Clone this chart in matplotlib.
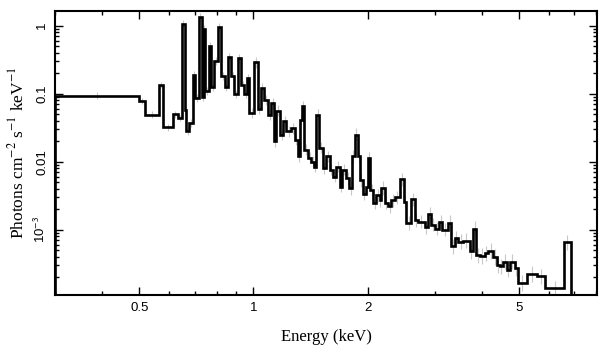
import numpy as np
import matplotlib
matplotlib.use("Agg")
import matplotlib.pyplot as plt
from matplotlib.ticker import FixedLocator, FixedFormatter, LogLocator, NullFormatter

plt.rcParams["mathtext.fontset"] = "stix"

# Energy bin edges (keV)
edges = [0.30, 0.498, 0.519, 0.565, 0.579, 0.613, 0.632, 0.648, 0.659, 0.664, 0.678,
         0.692, 0.703, 0.717, 0.730, 0.739, 0.747, 0.762, 0.773, 0.789, 0.805, 0.822,
         0.839, 0.856, 0.873, 0.891, 0.909, 0.928, 0.947, 0.960, 0.976, 1.006, 1.026,
         1.048, 1.063, 1.091, 1.114, 1.136, 1.148, 1.176, 1.200, 1.220, 1.257, 1.283,
         1.309, 1.323, 1.345, 1.363, 1.391, 1.420, 1.448, 1.464, 1.493, 1.523, 1.555,
         1.587, 1.619, 1.653, 1.686, 1.714, 1.756, 1.784, 1.821, 1.847, 1.884, 1.904,
         1.943, 1.975, 2.003, 2.032, 2.064, 2.108, 2.150, 2.172, 2.216, 2.261, 2.308,
         2.355, 2.428, 2.488, 2.518, 2.607, 2.660, 2.714, 2.827, 2.884, 2.944, 3.004,
         3.083, 3.147, 3.256, 3.324, 3.391, 3.460, 3.567, 3.715, 3.790, 3.869, 3.948,
         4.070, 4.153, 4.280, 4.370, 4.458, 4.548, 4.643, 4.737, 4.883, 4.982, 5.243,
         5.570, 5.861, 6.588, 6.847]

# Flux per bin (photons cm^-2 s^-1 keV^-1)
flux = [0.093, 0.078, 0.049, 0.134, 0.032, 0.050, 0.044, 1.05, 0.058, 0.028,
        0.037, 0.19, 0.086, 1.35, 0.09, 0.9, 0.11, 0.5, 0.125, 0.30,
        0.95, 0.18, 0.125, 0.35, 0.18, 0.10, 0.33, 0.134, 0.10, 0.17,
        0.052, 0.29, 0.06, 0.12, 0.081, 0.049, 0.072, 0.02, 0.056, 0.025,
        0.039, 0.028, 0.031, 0.021, 0.012, 0.041, 0.066, 0.015, 0.0114, 0.010,
        0.0085, 0.049, 0.016, 0.008, 0.012, 0.0076, 0.006, 0.0085, 0.0043, 0.0076,
        0.0057, 0.0041, 0.012, 0.025, 0.012, 0.0054, 0.0034, 0.0043, 0.0113, 0.0038,
        0.0025, 0.0032, 0.0027, 0.0041, 0.0025, 0.0022, 0.0027, 0.003, 0.0055, 0.0026,
        0.00126, 0.0028, 0.00139, 0.00131, 0.00109, 0.00173, 0.00118, 0.00104, 0.00131, 0.0010,
        0.00127, 0.00057, 0.00075, 0.00067, 0.00069, 0.00048, 0.00104, 0.00042, 0.00041, 0.00045,
        0.00049, 0.00040, 0.000305, 0.00029, 0.00034, 0.00026, 0.00034, 0.00027, 0.000166, 0.000222,
        0.000206, 0.000138, 0.00065]

# Relative 1-sigma errors per bin (grey error bars)
rel_err = ([0.12] * 7 + [0.15] * 23 + [0.2] * 30 + [0.25] * 30 + [0.3] * 23)

xticks = [0.5, 1, 2, 5]
xticklabels = ["0.5", "1", "2", "5"]
yticks = [1e-3, 1e-2, 1e-1, 1]
yticklabels = ["10$^{\\mathsf{-3}}$", "0.01", "0.1", "1"]

fig = plt.figure(figsize=(6.08, 3.57), dpi=100)
ax = fig.add_axes([55/608, 1-295/357, (597-55)/608, (295-11)/357])

e = np.array(edges)
f = np.array(flux)
r = np.array(rel_err)
centers = np.sqrt(e[:-1] * e[1:])
ax.errorbar(centers, f, yerr=[f * r / (1 + r), f * r], fmt="none",
            ecolor="#c8c8c8", elinewidth=0.8, capsize=0, zorder=1)
ax.stairs(flux, edges, baseline=1e-6, fill=False, color="black", linewidth=1.9, zorder=2)

ax.set_xscale("log")
ax.set_yscale("log")
ax.set_xlim(0.3, 8.04)
ax.set_ylim(1.1e-4, 1.64)

ax.xaxis.set_major_locator(FixedLocator(xticks))
ax.xaxis.set_major_formatter(FixedFormatter(xticklabels))
ax.xaxis.set_minor_locator(LogLocator(base=10, subs=np.arange(1, 10), numticks=20))
ax.xaxis.set_minor_formatter(NullFormatter())

ax.yaxis.set_major_locator(FixedLocator(yticks))
ax.yaxis.set_major_formatter(FixedFormatter(yticklabels))
ax.yaxis.set_minor_locator(LogLocator(base=10, subs=np.arange(2, 10), numticks=20))
ax.yaxis.set_minor_formatter(NullFormatter())

ax.tick_params(which="both", direction="in", top=True, right=True, width=1.0,
               labelsize=9.5, colors="black")
ax.tick_params(which="major", length=6, pad=5)
ax.tick_params(which="minor", length=3)
for lab in ax.get_xticklabels():
    lab.set_fontfamily("Liberation Sans")
for lab in ax.get_yticklabels():
    lab.set_fontfamily("Liberation Sans")
    lab.set_rotation(90)
    lab.set_va("center")

for s in ax.spines.values():
    s.set_linewidth(1.5)
    s.set_color("black")

ax.set_xlabel("Energy (keV)", fontfamily="Liberation Serif", fontsize=12, labelpad=11)
ax.set_ylabel("Photons cm$^{-2}$ s$^{-1}$ keV$^{-1}$", fontfamily="Liberation Serif",
              fontsize=12.5, labelpad=4)

fig.savefig("out.png", dpi=100)
